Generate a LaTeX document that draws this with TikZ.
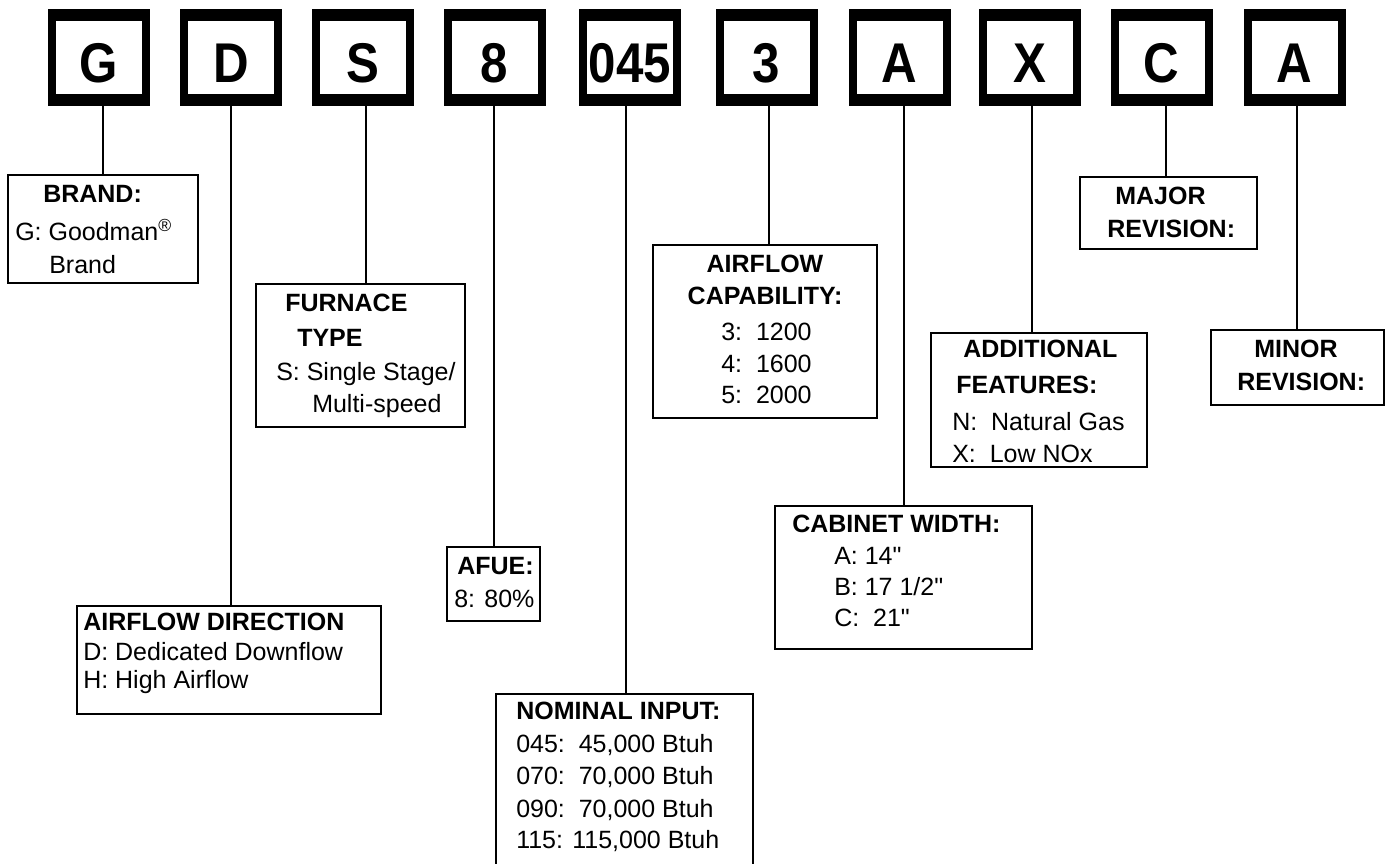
\documentclass[tikz,border=0pt]{standalone}
\usepackage{fontspec}
\usetikzlibrary{fit}
\newfontfamily\arial{Liberation Sans}
\newfontfamily\arialnarrow{Liberation Sans}[FakeStretch=0.88]
\begin{document}
\begin{tikzpicture}[x=0.75pt,y=-0.75pt,
  codeouter/.style={fill=black, draw=none, inner sep=0, minimum width=76.5pt, minimum height=72.75pt},
  codeinner/.style={fill=white, draw=none, inner sep=0, minimum width=64.5pt, minimum height=54.75pt},
  codeletter/.style={anchor=base, inner sep=0, font=\arialnarrow\bfseries\fontsize{42pt}{44pt}\selectfont},
  lbox/.style={draw=black, line width=1.5pt, inner sep=0},
  conn/.style={draw=black, line width=1.5pt},
  txt/.style={anchor=base west, inner sep=0, font=\arial\fontsize{18.75pt}{22pt}\selectfont},
  btxt/.style={txt, font=\arial\bfseries\fontsize{18.75pt}{22pt}\selectfont},
  bctxt/.style={btxt, anchor=base}
]
\useasboundingbox (0,0) rectangle (1387,863);

% ---- label boxes ----
\node[lbox, fit={(8,175) (198,283)}] (bBrand) {};
\node[btxt] (brand1) at (43,202) {BRAND:};
\node[txt] (brand2) at (15,240) {G: Goodman\textsuperscript{\textregistered}};
\node[txt] (brand3) at (49,273) {Brand};

\node[lbox, fit={(256,284) (465,427)}] (bFurn) {};
\node[btxt] (furn1) at (285,311) {FURNACE};
\node[btxt] (furn2) at (297,346) {TYPE};
\node[txt] (furn3) at (276,380) {S: Single Stage/};
\node[txt] (furn4) at (312,412) {Multi-speed};

\node[lbox, fit={(77,606) (381,714)}] (bDir) {};
\node[btxt] (dir1) at (83,630) {AIRFLOW DIRECTION};
\node[txt] (dir2) at (83,660) {D: Dedicated Downflow};
\node[txt] (dir3) at (83,688) {H: High Airflow};

\node[lbox, fit={(447,547) (540,621)}] (bAfue) {};
\node[btxt] (afue1) at (457,574) {AFUE:};
\node[txt] (afue2) at (454,607) {8: 80\%};

\node[lbox, fit={(496,694) (753,880)}] (bNom) {};
\node[btxt] (nom1) at (516,719) {NOMINAL INPUT:};
\node[txt] (nom2) at (516,752) {045:\ \ 45,000 Btuh};
\node[txt] (nom3) at (516,784) {070:\ \ 70,000 Btuh};
\node[txt] (nom4) at (516,817) {090:\ \ 70,000 Btuh};
\node[txt] (nom5) at (516,848) {115: 115,000 Btuh};

\node[lbox, fit={(653,245) (877,418)}] (bCap) {};
\node[bctxt] (cap1) at (765,272) {AIRFLOW};
\node[bctxt] (cap2) at (765,304) {CAPABILITY:};
\node[txt] (cap3) at (721,340) {3:\ \ 1200};
\node[txt] (cap4) at (721,372) {4:\ \ 1600};
\node[txt] (cap5) at (721,403) {5:\ \ 2000};

\node[lbox, fit={(931,333) (1147,467)}] (bAdd) {};
\node[btxt] (add1) at (963,357) {ADDITIONAL};
\node[btxt] (add2) at (956,393) {FEATURES:};
\node[txt] (add3) at (952,430) {N:\ \ Natural Gas};
\node[txt] (add4) at (952,462) {X:\ \ Low NOx};

\node[lbox, fit={(775,506) (1032,649)}] (bCab) {};
\node[btxt] (cab1) at (792,532) {CABINET WIDTH:};
\node[txt] (cab2) at (834,564) {A: 14"};
\node[txt] (cab3) at (834,595) {B: 17 1/2"};
\node[txt] (cab4) at (834,626) {C:\ \ 21"};

\node[lbox, fit={(1080,177) (1257,249)}] (bMaj) {};
\node[btxt] (maj1) at (1115,204) {MAJOR};
\node[btxt] (maj2) at (1107,237) {REVISION:};

\node[lbox, fit={(1211,330) (1384,405)}] (bMin) {};
\node[btxt] (min1) at (1254,357) {MINOR};
\node[btxt] (min2) at (1237,390) {REVISION:};

% ---- code boxes and connectors ----
\foreach \n/\cx/\t/\lx/\tgt in {G/99/G/103/bBrand, D/231/D/231/bDir, S/363/S/366/bFurn,
  8/494.5/8/494/bAfue, 045/630/045/626/bNom, 3/766.5/3/769/bCap, A1/899.5/A/904/bCab,
  X/1029.5/X/1032/bAdd, C/1161.5/C/1166/bMaj, A2/1294.5/A/1297/bMin}{
  \node[codeouter] (t\n) at (\cx,57.5) {};
  \node[codeinner] (ti\n) at (\cx,57.5) {};
  \node[codeletter] (tl\n) at (\cx,83) {\t};
  \coordinate (x\n) at (\lx,0);
  \draw[conn] (t\n.south -| x\n) -- (\tgt.north -| x\n);
}
\end{tikzpicture}
\end{document}
